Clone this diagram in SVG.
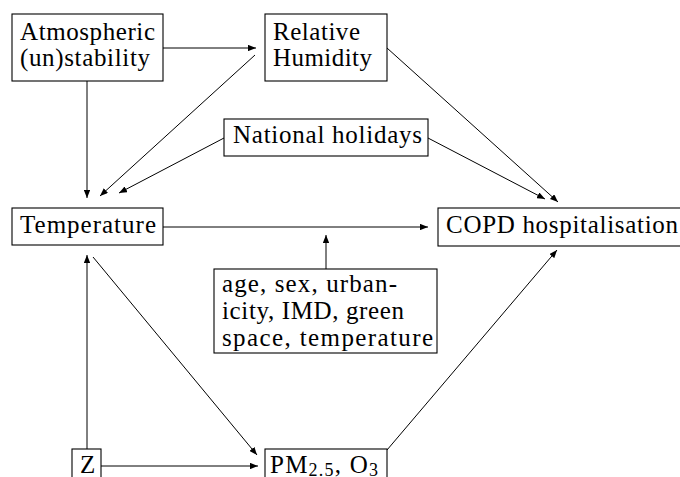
<svg xmlns="http://www.w3.org/2000/svg" width="680" height="477" viewBox="0 0 680 477">
<defs>
<marker id="ah" viewBox="0 0 10 8" refX="10" refY="4" markerWidth="8" markerHeight="6.4" markerUnits="userSpaceOnUse" orient="auto">
<path d="M0,0 L10,4 L0,8 Z" fill="#000"/>
</marker>
</defs>
<style>
rect{fill:#fff;stroke:#000;stroke-width:1.1}
text{font-size:25px;fill:#000}
.e line{stroke:#000;stroke-width:1;marker-end:url(#ah)}
</style>
<rect x="0" y="0" width="680" height="477" style="stroke:none"/>
<g id="edges" class="e">
<line x1="163" y1="48" x2="256" y2="48"/>
<line x1="87" y1="81" x2="87" y2="198"/>
<line x1="255" y1="55" x2="100" y2="196"/>
<line x1="224" y1="138" x2="119" y2="193"/>
<line x1="387" y1="48" x2="558" y2="202"/>
<line x1="428" y1="138" x2="545" y2="199"/>
<line x1="163" y1="227" x2="428" y2="227"/>
<line x1="326" y1="269" x2="326" y2="235"/>
<line x1="87" y1="449" x2="87" y2="255"/>
<line x1="93" y1="257" x2="257" y2="455"/>
<line x1="101" y1="466" x2="258" y2="466"/>
<line x1="387" y1="450" x2="557" y2="250"/>
</g>
<g font-family="Liberation Serif, Times New Roman, DejaVu Serif, serif">
<g id="atmos"><rect x="12" y="14" width="151" height="67"/><text x="20" y="39.5" textLength="135" lengthAdjust="spacing">Atmospheric</text><text x="20" y="66" textLength="130" lengthAdjust="spacing">(un)stability</text></g>
<g id="rh"><rect x="265" y="14" width="122" height="67"/><text x="273" y="39.5" textLength="87" lengthAdjust="spacing">Relative</text><text x="273" y="65.5" textLength="99" lengthAdjust="spacing">Humidity</text></g>
<g id="holidays"><rect x="224" y="119" width="204" height="37"/><text x="233" y="143" textLength="189" lengthAdjust="spacing">National holidays</text></g>
<g id="temp"><rect x="12" y="208" width="151" height="37"/><text x="20" y="233" textLength="136" lengthAdjust="spacing">Temperature</text></g>
<g id="copd"><rect x="438" y="208" width="260" height="38"/><text x="446" y="232.5" textLength="232" lengthAdjust="spacing">COPD hospitalisation</text></g>
<g id="conf"><rect x="214" y="269" width="223" height="84"/><text x="222" y="292" textLength="175" lengthAdjust="spacing">age, sex, urban-</text><text x="222" y="319" textLength="182" lengthAdjust="spacing">icity, IMD, green</text><text x="222" y="346" textLength="211" lengthAdjust="spacing">space, temperature</text></g>
<g id="z"><rect x="72" y="449" width="29" height="40"/><text x="80" y="473">Z</text></g>
<g id="pm"><rect x="265" y="449" width="122" height="40"/><text x="270" y="473" textLength="108" lengthAdjust="spacing">PM<tspan font-size="18" dy="3">2.5</tspan><tspan dy="-3">, O</tspan><tspan font-size="18" dy="3">3</tspan></text></g>
</g>
</svg>
